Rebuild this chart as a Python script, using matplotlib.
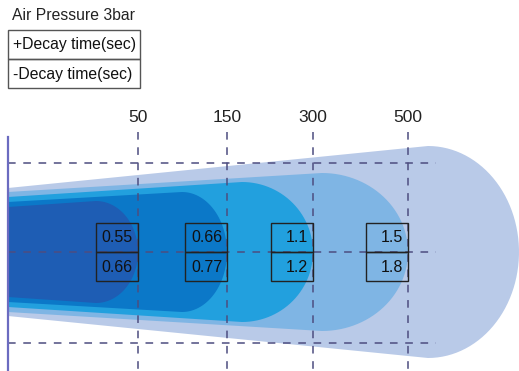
import numpy as np
import matplotlib.pyplot as plt
from matplotlib.patches import Polygon, Rectangle

plt.rcParams['font.family'] = ['Liberation Sans', 'DejaVu Sans']

# data
distances = ["50", "150", "300", "500"]
plus_decay = ["0.55", "0.66", "1.1", "1.5"]
minus_decay = ["0.66", "0.77", "1.2", "1.8"]
title_text = "Air Pressure 3bar"
legend_rows = ["+Decay time(sec)", "-Decay time(sec)"]

# layout (pixel space of the 519x371 picture)
W, H = 519, 371
col_x = [138, 227, 313, 408]
center_y = 252
x_left = 8
# beams: (half height at left, half height at cap start, cap start x, cap end x, colour)
beams = [
    (64, 106, 428, 519, "#b9cae8"),
    (60, 79, 322, 408, "#7fb5e4"),
    (55, 70, 242, 313, "#22a0de"),
    (50, 60, 182, 227, "#0b78c8"),
    (45, 51, 96, 138, "#1e5db4"),
]


def beam_outline(h0, h1, xc, xe):
    t = np.linspace(np.pi / 2, -np.pi / 2, 60)
    cap = np.column_stack([xc + (xe - xc) * np.cos(t), center_y - h1 * np.sin(t)])
    pts = [(x_left, center_y - h0)] + [tuple(p) for p in cap] + [(x_left, center_y + h0)]
    return pts


fig = plt.figure(figsize=(W / 100, H / 100), dpi=100)
ax = fig.add_axes([0, 0, 1, 1])
ax.set_xlim(0, W)
ax.set_ylim(H, 0)
ax.axis("off")

for h0, h1, xc, xe, col in beams:
    ax.add_patch(Polygon(beam_outline(h0, h1, xc, xe), closed=True,
                         facecolor=col, edgecolor="none", zorder=1))

# dashed guide lines
dash_kw = dict(color="#4d4d80", lw=1.1, dashes=(5, 5), zorder=2)
for y in [163, center_y, 343]:
    ax.plot([x_left, 436], [y, y], **dash_kw)
for x in col_x:
    ax.plot([x, x], [132, H], **dash_kw)

# left axis line
ax.plot([x_left, x_left], [137, H], color="#6b6bc0", lw=1.6, zorder=3)

# column labels and value boxes
for x, d, p, m in zip(col_x, distances, plus_decay, minus_decay):
    ax.text(x, 118, d, ha="center", va="center", fontsize=12.5, color="#222222")
    for top, val in [(223, p), (center_y, m)]:
        ax.add_patch(Rectangle((x - 42, top), 42, 29, facecolor="none",
                               edgecolor="#222222", lw=1.0, zorder=4))
        ax.text(x - 5, top + 15, val, ha="right", va="center",
                fontsize=11.5, color="#111111", zorder=5)

# title and legend box
ax.text(12, 15, title_text, ha="left", va="center", fontsize=11.3, color="#222222")
for i, lab in enumerate(legend_rows):
    ax.add_patch(Rectangle((8, 30 + i * 29), 132, 29, facecolor="none",
                           edgecolor="#555555", lw=1.0))
    ax.text(13, 45 + i * 29, lab, ha="left", va="center", fontsize=11.3, color="#111111")

fig.savefig("out.png", dpi=100)
